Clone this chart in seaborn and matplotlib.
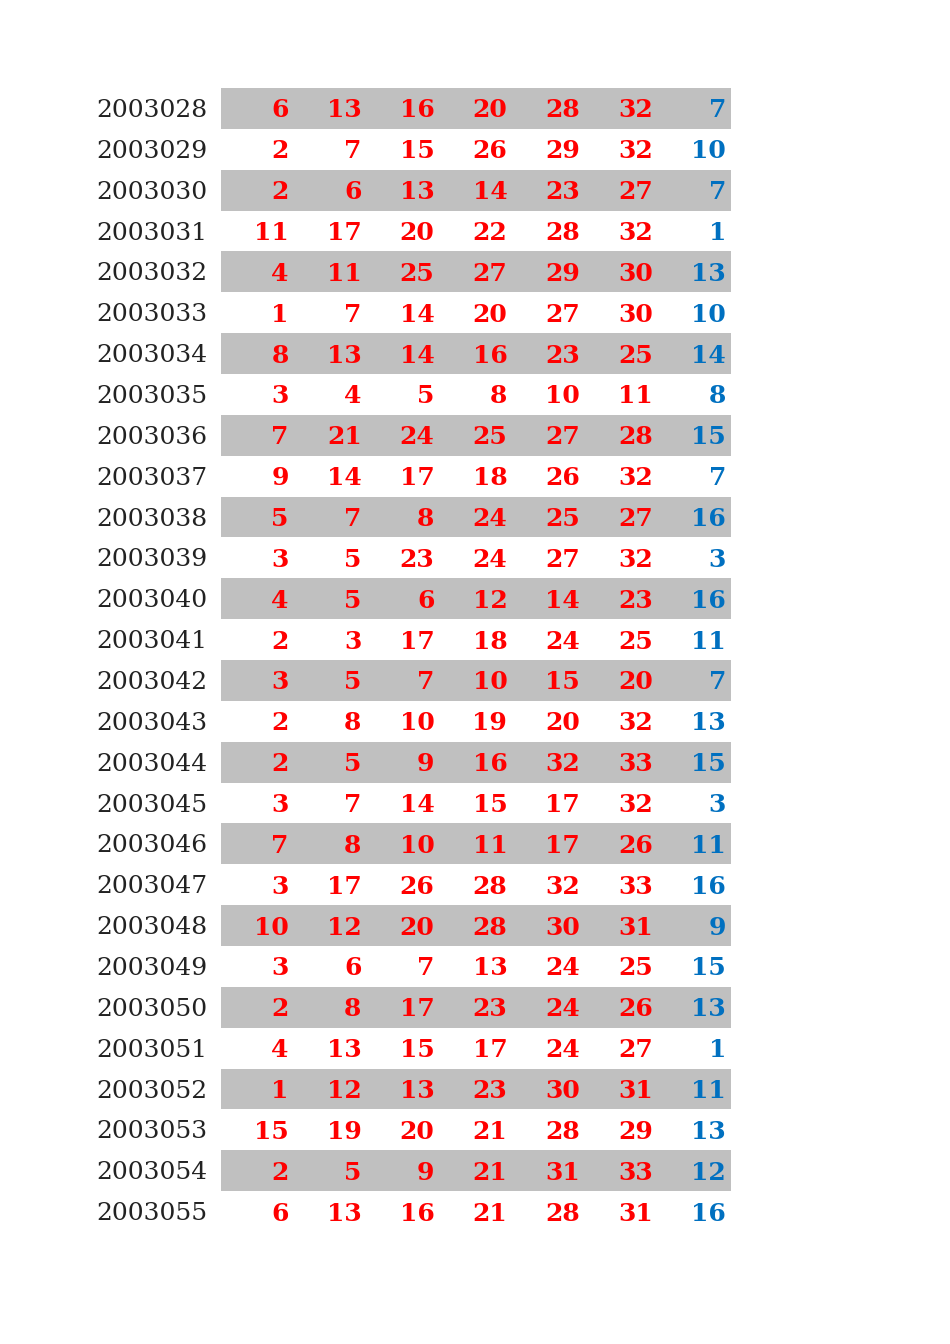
import matplotlib
matplotlib.use("Agg")
import matplotlib.pyplot as plt
import seaborn as sns

issues = [f"20030{n}" for n in range(28, 56)]
reds = [
    [6,13,16,20,28,32],[2,7,15,26,29,32],[2,6,13,14,23,27],[11,17,20,22,28,32],
    [4,11,25,27,29,30],[1,7,14,20,27,30],[8,13,14,16,23,25],[3,4,5,8,10,11],
    [7,21,24,25,27,28],[9,14,17,18,26,32],[5,7,8,24,25,27],[3,5,23,24,27,32],
    [4,5,6,12,14,23],[2,3,17,18,24,25],[3,5,7,10,15,20],[2,8,10,19,20,32],
    [2,5,9,16,32,33],[3,7,14,15,17,32],[7,8,10,11,17,26],[3,17,26,28,32,33],
    [10,12,20,28,30,31],[3,6,7,13,24,25],[2,8,17,23,24,26],[4,13,15,17,24,27],
    [1,12,13,23,30,31],[15,19,20,21,28,29],[2,5,9,21,31,33],[6,13,16,21,28,31],
]
blues = [7,10,7,1,13,10,14,8,15,7,16,3,16,11,7,13,15,3,11,16,9,15,13,1,11,13,12,16]

sns.set_style("white")
plt.rcParams['font.family'] = ['DejaVu Serif']

fig = plt.figure(figsize=(9.5, 13.44), dpi=100)
ax = fig.add_axes([221/950, 1 - 1232/1344, 510/950, (1232-88)/1344])
n = len(issues)
ax.set_xlim(0, 7)
ax.set_ylim(n, 0)
ax.axis('off')

stripe_rows = [i + 0.5 for i in range(0, n, 2)]
ax.barh(stripe_rows, [7]*len(stripe_rows), left=0, height=1.0, color='#c0c0c0', linewidth=0)

for i in range(n):
    y = i + 0.55
    ax.text(-0.19, y, issues[i], ha='right', va='center', fontsize=18, color='#222222', clip_on=False)
    for j, v in enumerate(reds[i]):
        ax.text(j + 1 - 0.07, y, str(v), ha='right', va='center', fontsize=18,
                fontweight='bold', color='#ff0000')
    ax.text(7 - 0.07, y, str(blues[i]), ha='right', va='center', fontsize=18,
            fontweight='bold', color='#0070c0')

fig.savefig("out.png", dpi=100)
